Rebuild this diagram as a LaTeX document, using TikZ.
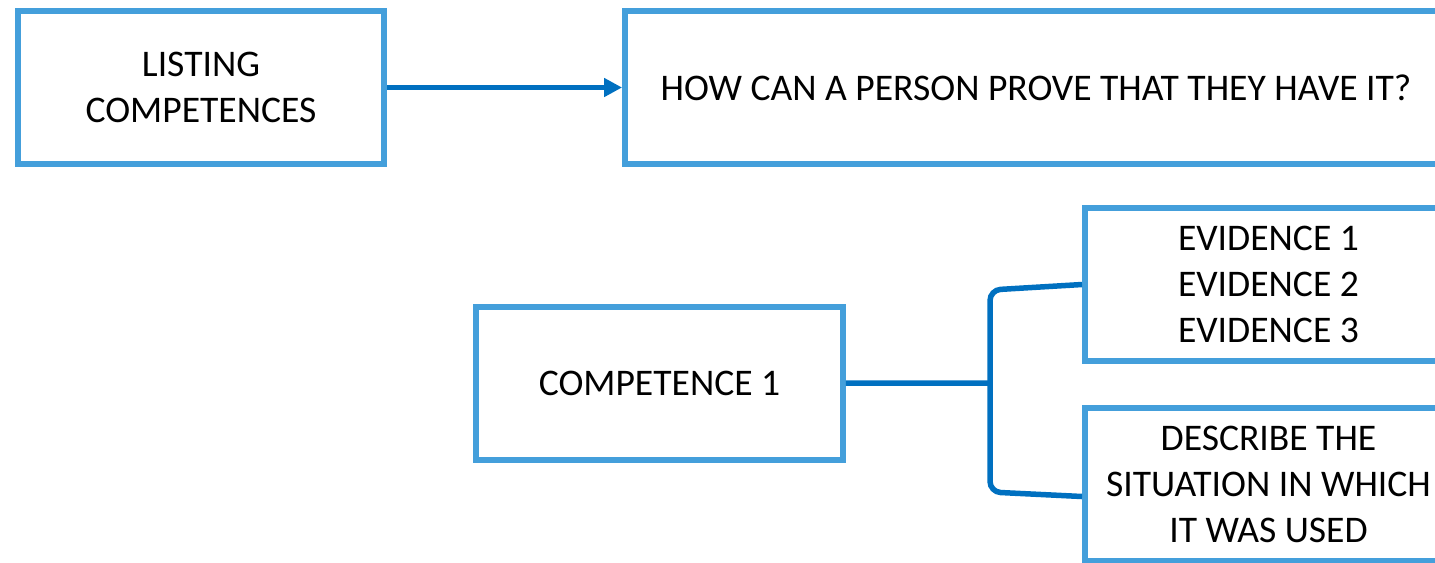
\documentclass[tikz,border=0pt]{standalone}
\usepackage{fontspec}
\setmainfont{Carlito}
\usetikzlibrary{arrows.meta,calc}
\definecolor{Frame}{HTML}{449FDB}
\definecolor{Link}{HTML}{0070C0}

\begin{document}
\begin{tikzpicture}[x=0.02cm,y=-0.02cm,>={Triangle[length=0.36cm,width=0.36cm]},
    card/.style={draw=Frame,line width=0.12cm,fill=white,minimum width=7.34cm,minimum height=3.06cm,align=center,font=\fontsize{21.4}{26.4}\selectfont},
    link/.style={draw=Link,line width=0.11cm}]
  \useasboundingbox (0,0) rectangle (1435,562);
  \clip (0,0) rectangle (1435,562);
  \node[card] (list) at (201,87.5) {LISTING\\COMPETENCES};
  \node[card,minimum width=16.44cm] (prove) at (1036,87.5) {HOW CAN A PERSON PROVE THAT THEY HAVE IT?};
  \node[card] (comp) at (659.5,383.5) {COMPETENCE 1};
  \node[card] (evid) at (1268.5,284.5) {EVIDENCE 1\\EVIDENCE 2\\EVIDENCE 3};
  \node[card] (desc) at (1268.5,484.5) {DESCRIBE THE\\SITUATION IN WHICH\\IT WAS USED};
  \coordinate (fork) at (990,383);
  \draw[link,->] (list) -- (prove);
  \draw[link] (comp) -- (fork);
  \draw[link,rounded corners=6pt] (evid.west) -- (990,290) -- (990,492) -- ($(desc.west)+(0,12)$);
\end{tikzpicture}
\end{document}
